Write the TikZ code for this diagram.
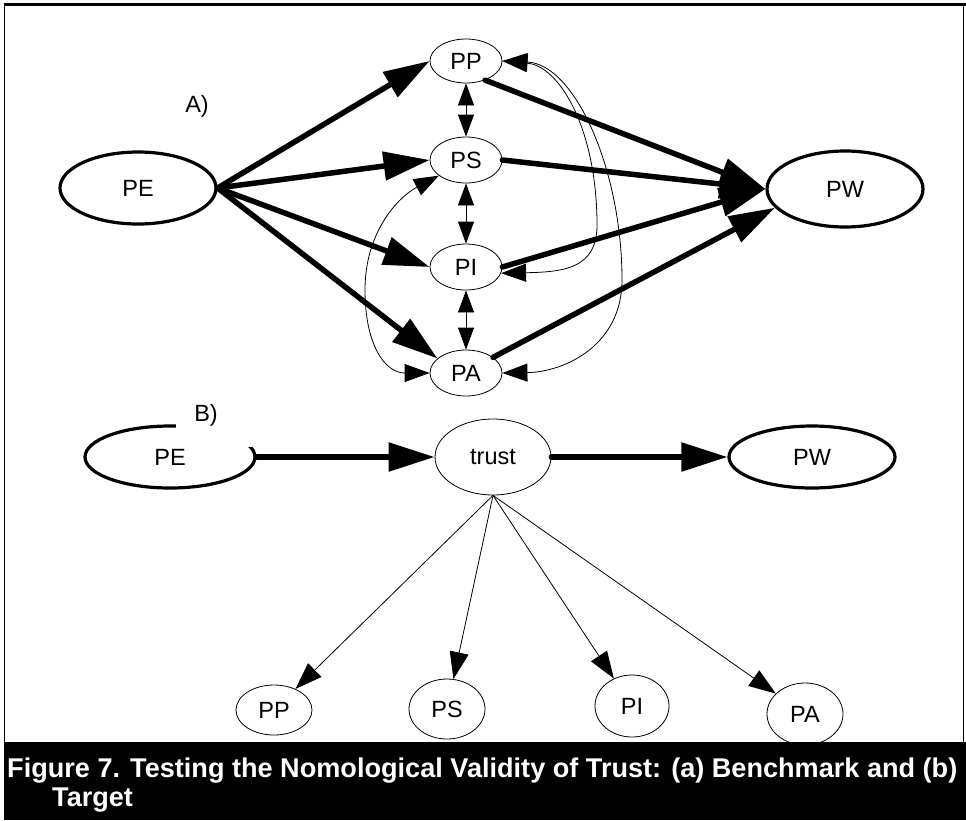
\documentclass[tikz,border=0pt]{standalone}
\usepackage{fontspec}
\setmainfont{Liberation Sans}
\usetikzlibrary{arrows.meta,shapes.geometric}
\tikzset{
	latent/.style={draw, ellipse, inner sep=0pt, line width=0.8pt, font=\fontsize{23.5}{25}\selectfont},
	outer latent/.style={latent, line width=3.2pt},
	label text/.style={inner sep=0pt, font=\fontsize{23.5}{25}\selectfont},
	caption text/.style={inner sep=0pt, text=white, font=\bfseries\fontsize{27.1}{30}\selectfont},
	heavy path/.style={line width=5.5pt, line cap=round, -{Triangle[length=46pt,width=28pt]}},
	corr path/.style={line width=0.8pt, {Triangle[length=22pt,width=16pt]}-{Triangle[length=22pt,width=16pt]}},
	curve path/.style={line width=0.8pt, {Triangle[length=25pt,width=18pt]}-{Triangle[length=25pt,width=18pt]}},
	thin path/.style={line width=0.8pt, -{Triangle[length=27pt,width=19pt]}}
}
\begin{document}
\begin{tikzpicture}[x=1pt, y=-1pt]
	\useasboundingbox (0,0) rectangle (966,820);
	\draw[line width=1pt] (4,742) -- (4,4) (963,4) -- (963,742);
	\draw[line width=3pt] (4,4) -- (966,4);
	\fill[black] (4,742) rectangle (966,820);
	\node[caption text, anchor=base west] at (7,777) (caption-1) {Figure 7. Testing the Nomological Validity of Trust: (a) Benchmark and (b)};
	\node[caption text, anchor=base west] at (52,806) (caption-2) {Target};

	\node[outer latent, minimum width=156pt, minimum height=72pt] at (138,188) (pe-a) {PE};
	\node[outer latent, minimum width=156pt, minimum height=76pt] at (845,189) (pw-a) {PW};
	\node[latent, minimum width=72pt, minimum height=44pt] at (466,61) (pp-a) {PP};
	\node[latent, minimum width=72pt, minimum height=46pt] at (466,160) (ps-a) {PS};
	\node[latent, minimum width=72pt, minimum height=46pt] at (466,267) (pi-a) {PI};
	\node[latent, minimum width=72pt, minimum height=46pt] at (466,373) (pa-a) {PA};
	\node[label text] at (197,106) (label-a) {A)};

	\foreach \t/\a in {pp-a/west, ps-a/west, pi-a/west, pa-a/153}
		\draw[heavy path] (pe-a.east) to (\t.\a);
	\draw[heavy path] (pp-a.-45) to (pw-a.west);
	\draw[heavy path] (ps-a.east) to (pw-a.west);
	\draw[heavy path] (pi-a.east) to (pw-a.west);
	\draw[heavy path] (pa-a.30) to (pw-a.195);

	\draw[corr path] (pp-a) to (ps-a);
	\draw[corr path] (ps-a) to (pi-a);
	\draw[corr path] (pi-a) to (pa-a);

	\draw[curve path] (pp-a.east) .. controls (560,66) and (597,130) .. (597,225) .. controls (597,268) and (565,272) .. (pi-a.-10);
	\draw[curve path] (pp-a.east) .. controls (575,64) and (622,170) .. (622,280) .. controls (622,345) and (565,372) .. (pa-a.east);
	\draw[curve path] (pa-a.west) .. controls (385,373) and (365,345) .. (365,290) .. controls (365,230) and (400,196) .. (ps-a.210);

	\node[outer latent, minimum width=170pt, minimum height=62pt] at (170,457) (pe-b) {PE};
	\fill[white] (176,395) rectangle (262,447);
	\node[label text] at (206,415) (label-b) {B)};
	\node[latent, minimum width=116pt, minimum height=76pt] at (493,457) (trust) {trust};
	\node[outer latent, minimum width=166pt, minimum height=62pt] at (812,457) (pw-b) {PW};
	\node[latent, minimum width=76pt, minimum height=50pt] at (274,710) (pp-b) {PP};
	\node[latent, minimum width=76pt, minimum height=60pt] at (447,709) (ps-b) {PS};
	\node[latent, minimum width=74pt, minimum height=62pt] at (632,706) (pi-b) {PI};
	\node[latent, minimum width=76pt, minimum height=62pt] at (805,714) (pa-b) {PA};

	\draw[heavy path] (pe-b.east) to (trust.west);
	\draw[heavy path] (trust.east) to (pw-b.west);
	\foreach \n in {pp-b, ps-b, pi-b, pa-b}
		\draw[thin path] (trust.south) to (\n);
\end{tikzpicture}
\end{document}
